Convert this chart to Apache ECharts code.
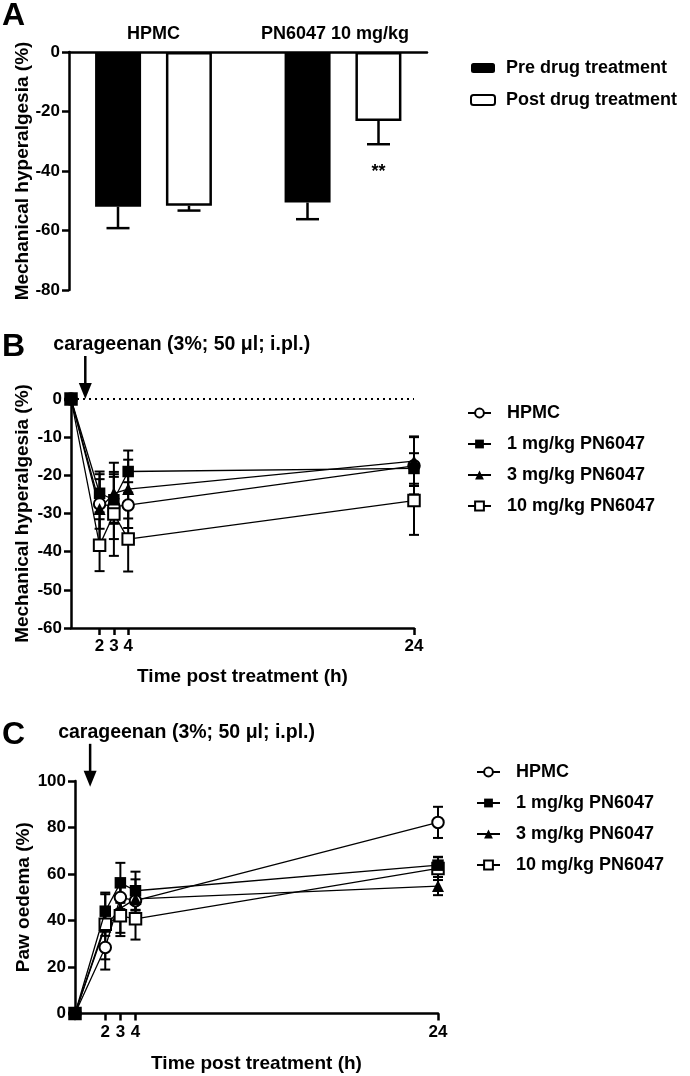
<!DOCTYPE html>
<html><head><meta charset="utf-8">
<script src="https://cdn.jsdelivr.net/npm/echarts@6/dist/echarts.min.js"></script>
<style>html,body{margin:0;padding:0;background:#fff}#c{width:690px;height:1076px}</style>
</head><body><div id="c"></div><script>
const FONT = '"Liberation Sans", Arial, Helvetica, sans-serif';

// ---------- Panel A data ----------
const groupsA = ['HPMC', 'PN6047 10 mg/kg'];
const preA = [-52.0, -50.6];
const preErrA = [7.2, 5.6];
const postA = [-51.7, -23.2];
const postErrA = [1.6, 7.8];
const sigA = ['', '**'];
const legendA = ['Pre drug treatment', 'Post drug treatment'];

// ---------- Panel B data (mechanical hyperalgesia %) ----------
const timesB = [0, 2, 3, 4, 24];
const hpmcB = [0, -27.5, -28.2, -27.8, -17.5];
const hpmcErrB = [0, 6.5, 8.5, 6.0, 7.5];
const mg1B = [0, -24.7, -26.4, -19.0, -18.2];
const mg1ErrB = [0, 5.0, 6.0, 5.5, 4.0];
const mg3B = [0, -28.8, -24.7, -23.6, -16.3];
const mg3ErrB = [0, 9.8, 8.0, 7.7, 6.5];
const mg10B = [0, -38.3, -30.1, -36.7, -26.6];
const mg10ErrB = [0, 6.8, 11.0, 8.5, 9.0];

// ---------- Panel C data (paw oedema %) ----------
const timesC = [0, 2, 3, 4, 24];
const hpmcC = [0, 28.4, 49.9, 48.5, 82.2];
const hpmcErrC = [0, 9.5, 5.0, 9.2, 6.7];
const mg1C = [0, 44.0, 56.2, 52.8, 63.8];
const mg1ErrC = [0, 8.0, 8.6, 8.2, 3.4];
const mg3C = [0, 37.3, 45.2, 49.3, 54.8];
const mg3ErrC = [0, 14.0, 10.5, 5.0, 3.9];
const mg10C = [0, 38.4, 42.0, 40.7, 62.4];
const mg10ErrC = [0, 5.0, 8.7, 8.9, 5.0];

const timeTicks = [2, 3, 4, 24];
const seriesNames = ['HPMC', '1 mg/kg PN6047', '3 mg/kg PN6047', '10 mg/kg PN6047'];
const symbols = ['emptyCircle', 'rect', 'triangle', 'emptyRect'];
const injectionTime = 1;            // carrageenan arrow position (h)
const arrowTipB = 0, arrowTipC = 97.5;
const injText = 'carageenan (3%; 50 \u03bcl; i.pl.)';

// ---------- styling ----------
const AX = {color: '#000', width: 2.5};
const lbl = {color: '#000', fontSize: 17, fontWeight: 'bold', fontFamily: FONT};
const nameStyle = {color: '#000', fontSize: 19, fontWeight: 'bold', fontFamily: FONT};

function errRender(capW) {
  return function (params, api) {
    const x = api.value(0), m = api.value(1), e = api.value(2);
    if (!e) return null;
    const hi = api.coord([x, m + e]), lo = api.coord([x, m - e]);
    const st = {stroke: '#000', lineWidth: 2};
    return {type: 'group', children: [
      {type: 'line', shape: {x1: hi[0], y1: hi[1], x2: lo[0], y2: lo[1]}, style: st},
      {type: 'line', shape: {x1: hi[0] - capW / 2, y1: hi[1], x2: hi[0] + capW / 2, y2: hi[1]}, style: st},
      {type: 'line', shape: {x1: lo[0] - capW / 2, y1: lo[1], x2: lo[0] + capW / 2, y2: lo[1]}, style: st}
    ]};
  };
}

function barErrRender(params, api) {
  const cat = api.value(0), m = api.value(1), e = api.value(2), side = api.value(3);
  const sig = api.value(4);
  const off = side * 35.5, capW = 23;
  const top = api.coord([cat, m]), lo = api.coord([cat, m - e]);
  const x = top[0] + off;
  const st = {stroke: '#000', lineWidth: 2.5};
  const ch = [
    {type: 'line', shape: {x1: x, y1: top[1], x2: x, y2: lo[1]}, style: st},
    {type: 'line', shape: {x1: x - capW / 2, y1: lo[1], x2: x + capW / 2, y2: lo[1]}, style: st}
  ];
  if (sig) ch.push({type: 'text', style: {text: sig, x: x, y: lo[1] + 28, align: 'center', verticalAlign: 'middle',
    font: 'bold 18px ' + FONT, fill: '#000'}});
  return {type: 'group', children: ch};
}

function arrowRender(params, api) {
  const p = api.coord([api.value(0), api.value(1)]);
  const x = p[0], tip = p[1];
  return {type: 'group', children: [
    {type: 'line', shape: {x1: x, y1: tip - 43, x2: x, y2: tip - 12}, style: {stroke: '#000', lineWidth: 2.5}},
    {type: 'polygon', shape: {points: [[x - 6.5, tip - 16], [x + 6.5, tip - 16], [x, tip]]}, style: {fill: '#000'}},
    {type: 'text', style: {text: injText, x: x - 32, y: tip - 54, verticalAlign: 'middle', font: 'bold 19.5px ' + FONT, fill: '#000'}}
  ]};
}

function lineSeries(name, sym, times, vals, xi, yi, extra) {
  const empty = sym.indexOf('empty') === 0;
  const s = {
    name: name, type: 'line', xAxisIndex: xi, yAxisIndex: yi, z: sym === 'rect' ? 6 : 5, clip: false,
    data: times.map((t, i) => [t, vals[i]]),
    symbol: sym, symbolSize: sym === 'triangle' ? 12 : 11.5,
    lineStyle: {color: '#000', width: 1.3},
    itemStyle: {color: '#000', borderColor: '#000', borderWidth: empty ? 2.2 : 0}
  };
  return Object.assign(s, extra || {});
}
function errSeries(times, vals, errs, xi, yi) {
  return {type: 'custom', xAxisIndex: xi, yAxisIndex: yi, z: 2, silent: true,
    renderItem: errRender(10), encode: {x: 0, y: 1},
    data: times.map((t, i) => [t, vals[i], errs[i]])};
}

const series = [
  // Panel A bars
  {name: legendA[0], type: 'bar', xAxisIndex: 1, yAxisIndex: 1, data: preA, barWidth: 46, barGap: '54%',
    itemStyle: {color: '#000', borderColor: '#000', borderWidth: 0}},
  {name: legendA[1], type: 'bar', xAxisIndex: 1, yAxisIndex: 1, data: postA, barWidth: 46, barGap: '54%',
    itemStyle: {color: '#fff', borderColor: '#000', borderWidth: 2.5}},
  {type: 'custom', xAxisIndex: 1, yAxisIndex: 1, z: 3, silent: true, renderItem: barErrRender,
    encode: {x: 0, y: 1},
    data: preA.map((v, i) => [i, v, preErrA[i], -1, '']).concat(postA.map((v, i) => [i, v, postErrA[i], 1, sigA[i]]))}
];

// Panel B
const bVals = [hpmcB, mg1B, mg3B, mg10B], bErr = [hpmcErrB, mg1ErrB, mg3ErrB, mg10ErrB];
bVals.forEach((v, k) => {
  const extra = k === 0 ? {markLine: {silent: true, symbol: 'none', label: {show: false},
    lineStyle: {type: [2, 4], width: 2, color: '#000'},
    data: [[{coord: [0, 0]}, {coord: [24, 0]}]]}} : null;
  series.push(lineSeries(seriesNames[k], symbols[k], timesB, v, 2, 2, extra));
  series.push(errSeries(timesB, v, bErr[k], 2, 2));
});
series.push({type: 'custom', xAxisIndex: 2, yAxisIndex: 2, silent: true, renderItem: arrowRender, data: [[injectionTime, arrowTipB]]});

// Panel C
const cVals = [hpmcC, mg1C, mg3C, mg10C], cErr = [hpmcErrC, mg1ErrC, mg3ErrC, mg10ErrC];
cVals.forEach((v, k) => {
  series.push(lineSeries(seriesNames[k], symbols[k], timesC, v, 3, 3));
  series.push(errSeries(timesC, v, cErr[k], 3, 3));
});
series.push({type: 'custom', xAxisIndex: 3, yAxisIndex: 3, silent: true, renderItem: arrowRender, data: [[injectionTime, arrowTipC]]});

const timeAxis = (gi, nameGap) => ({
  gridIndex: gi, type: 'value', min: 0, max: 24,
  axisLine: {show: true, onZero: false, lineStyle: AX},
  axisTick: {show: true, length: 7, lineStyle: AX, customValues: timeTicks},
  axisLabel: Object.assign({margin: 10, customValues: timeTicks}, lbl),
  splitLine: {show: false},
  name: 'Time post treatment (h)', nameLocation: 'middle', nameGap: nameGap, nameTextStyle: nameStyle,
  nameMoveOverlap: false
});
const valAxis = (gi, min, max, interval, name, nameGap) => ({
  gridIndex: gi, type: 'value', min: min, max: max, interval: interval,
  axisLine: {show: true, onZero: false, lineStyle: AX},
  axisTick: {show: true, length: 7, lineStyle: AX},
  axisLabel: Object.assign({margin: 9}, lbl),
  splitLine: {show: false},
  name: name, nameLocation: 'middle', nameGap: nameGap, nameTextStyle: nameStyle,
  nameMoveOverlap: false
});

const legendText = {color: '#000', fontSize: 18, fontWeight: 'bold', fontFamily: FONT, lineHeight: 20};

const option = {
  animation: false,
  backgroundColor: '#fff',
  textStyle: {fontFamily: FONT},
  grid: [
    {left: 69, top: 52, width: 358, height: 238},
    {left: 58.75, top: 52, width: 379, height: 238},
    {left: 71, top: 399, width: 343, height: 229},
    {left: 75, top: 781, width: 363, height: 232.5}
  ],
  xAxis: [
    {gridIndex: 0, type: 'value', min: 0, max: 1, position: 'top',
      axisLine: {show: true, onZero: false, lineStyle: AX}, axisTick: {show: false}, axisLabel: {show: false}, splitLine: {show: false}},
    {gridIndex: 1, type: 'category', data: groupsA, position: 'top',
      axisLine: {show: false}, axisTick: {show: false},
      axisLabel: Object.assign({}, lbl, {margin: 9, fontSize: 18, interval: 0,
        formatter: (v, i) => i === 1 ? '{p|' + v + '}' : v,
        rich: {p: {fontSize: 18, fontWeight: 'bold', fontFamily: FONT, color: '#000', padding: [0, 16, 0, 0]}}})},
    timeAxis(2, 39),
    timeAxis(3, 41)
  ],
  yAxis: [
    valAxis(0, -80, 0, 20, 'Mechanical hyperalgesia (%)', 37),
    {gridIndex: 1, type: 'value', min: -80, max: 0, show: false},
    valAxis(2, -60, 0, 10, 'Mechanical hyperalgesia (%)', 39),
    valAxis(3, 0, 100, 20, 'Paw oedema (%)', 42)
  ],
  legend: [
    {data: legendA, orient: 'vertical', left: 470, top: 58, padding: 0, itemWidth: 24, itemHeight: 10, itemGap: 12,
      textStyle: Object.assign({padding: [0, 0, 0, 6]}, legendText)},
    {data: seriesNames, orient: 'vertical', left: 467, top: 403, padding: 0, itemWidth: 23, itemHeight: 11, itemGap: 11,
      textStyle: Object.assign({padding: [0, 0, 0, 11]}, legendText)},
    {data: seriesNames, orient: 'vertical', left: 476, top: 762, padding: 0, itemWidth: 23, itemHeight: 11, itemGap: 11,
      textStyle: Object.assign({padding: [0, 0, 0, 11]}, legendText)}
  ],
  graphic: [
    {type: 'text', left: 2, top: 0, style: {text: 'A', font: 'bold 32px ' + FONT, fill: '#000'}},
    {type: 'text', left: 2, top: 331, style: {text: 'B', font: 'bold 32px ' + FONT, fill: '#000'}},
    {type: 'text', left: 2, top: 719, style: {text: 'C', font: 'bold 32px ' + FONT, fill: '#000'}}
  ],
  series: series
};

const chart = echarts.init(document.getElementById('c'), null, {renderer: 'canvas'});
chart.setOption(option);
</script></body></html>
